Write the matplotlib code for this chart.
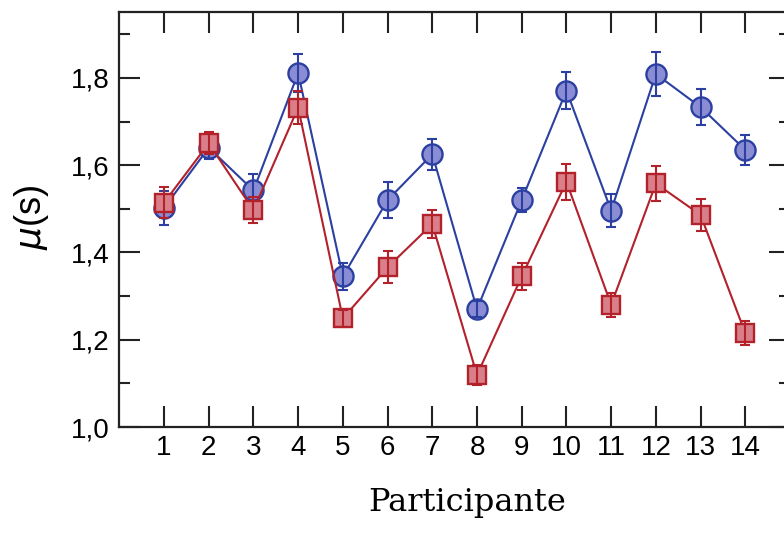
import matplotlib
matplotlib.use("Agg")
import matplotlib.pyplot as plt
from matplotlib.ticker import MultipleLocator, FuncFormatter

participants = list(range(1, 15))
mu_blue = [1.502, 1.640, 1.542, 1.811, 1.345, 1.520, 1.625, 1.270, 1.520, 1.771, 1.496, 1.809, 1.733, 1.635]
err_blue = [0.039, 0.025, 0.038, 0.044, 0.030, 0.041, 0.036, 0.018, 0.028, 0.043, 0.037, 0.050, 0.042, 0.034]
mu_red = [1.514, 1.650, 1.497, 1.732, 1.249, 1.366, 1.465, 1.119, 1.345, 1.562, 1.280, 1.558, 1.486, 1.215]
err_red = [0.036, 0.025, 0.030, 0.037, 0.020, 0.037, 0.032, 0.022, 0.030, 0.041, 0.027, 0.040, 0.036, 0.028]

plt.rcParams['font.family'] = ['Liberation Sans', 'DejaVu Sans']
plt.rcParams['mathtext.fontset'] = 'dejavusans'

W, H = 784, 533
fig = plt.figure(figsize=(W / 100, H / 100), dpi=100)
x0, x1 = 119.3, 790.0
y0, y1 = 427.0, 12.0
ax = fig.add_axes([x0 / W, 1 - y0 / H, (x1 - x0) / W, (y0 - y1) / H])

blue_edge, blue_fill = '#2b40a0', '#8a8dd4'
red_edge, red_fill = '#b3212b', '#d97f89'

for mu, err, edge, fill, mk, ms, z in [
    (mu_blue, err_blue, blue_edge, blue_fill, 'o', 14.5, 3),
    (mu_red, err_red, red_edge, red_fill, 's', 13.5, 4),
]:
    ax.plot(participants, mu, color=edge, lw=1.5, marker=mk, ms=ms,
            mfc=fill, mec=edge, mew=1.7, zorder=z)
    ax.errorbar(participants, mu, yerr=err, fmt='none', ecolor=edge,
                elinewidth=1.5, capsize=3.8, capthick=1.5, zorder=z + 0.5)

ax.set_xlim(0, 15)
ax.set_ylim(1.0, 1.951)
ax.set_xticks(participants)
ax.yaxis.set_major_locator(MultipleLocator(0.2))
ax.yaxis.set_minor_locator(MultipleLocator(0.1))
ax.yaxis.set_major_formatter(FuncFormatter(lambda v, p: f"{v:.1f}".replace('.', ',')))

for s in ax.spines.values():
    s.set_linewidth(1.6)
    s.set_color('#222222')

ax.tick_params(axis='both', which='major', direction='in', length=15, width=1.5,
               color='#222222', labelsize=20, top=True, right=True)
ax.tick_params(axis='y', which='minor', direction='in', length=8, width=1.5,
               color='#222222', right=True)
ax.tick_params(axis='y', which='major', pad=7)
ax.tick_params(axis='x', which='major', pad=6)

fig.text(32 / W, 1 - 217 / H, r'$\mu$(s)', rotation=90, fontsize=26,
         ha='center', va='center')
fig.text(467 / W, 1 - 502 / H, 'Participante', fontsize=23,
         family='DejaVu Serif', ha='center', va='center')

fig.savefig('out.png', dpi=100)
